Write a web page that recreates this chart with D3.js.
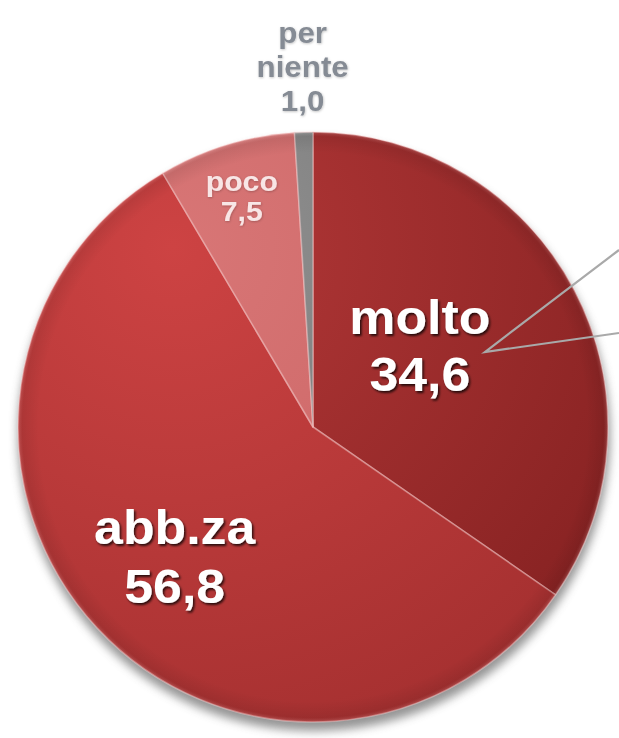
<!DOCTYPE html>
<html>
<head>
<meta charset="utf-8">
<script src="https://cdn.jsdelivr.net/npm/d3@7"></script>
<style>
  html, body { margin: 0; padding: 0; background: #ffffff; }
  svg { display: block; }
</style>
</head>
<body>
<svg id="chart" width="619" height="738"></svg>
<script>
// ---- data ----
const categories = ["molto", "abb.za", "poco", "per niente"];
const values = [34.6, 56.8, 7.5, 1.0];
const valueLabels = ["34,6", "56,8", "7,5", "1,0"];

// ---- styles / layout ----
const W = 619, H = 738;
const cx = 313, cy = 427, R = 295;
const fills = [
  ["#b43838", "#852121"],
  ["#cd4343", "#a32f2f"],
  ["#d87676", "#c75f5f"],
  ["#949494", "#666666"]
];
// label placement: radius along mid-angle, plus nudge, font size, colours
const labelStyle = [
  { r: 150, dx: -26, dy: -12, size: 48, color: "#ffffff", shadow: true, lines: 2, lh: 57 },
  { r: 189, dx: 0, dy: 0, size: 48, color: "#ffffff", shadow: true, lines: 2, lh: 59 },
  { r: 242, dx: 0, dy: 0, size: 28, color: "#f8e6e6", shadow: false, lines: 2, lh: 30 },
  { r: 362, dx: 1, dy: 1, size: 29, color: "#858b94", shadow: false, lines: 3, lh: 34 }
];

const svg = d3.select("#chart");
const defs = svg.append("defs");

// drop shadow for text
const f = defs.append("filter").attr("id", "txtShadow")
  .attr("x", "-20%").attr("y", "-20%").attr("width", "140%").attr("height", "140%");
f.append("feDropShadow").attr("dx", 1.5).attr("dy", 2).attr("stdDeviation", 1.2)
  .attr("flood-color", "#000").attr("flood-opacity", 0.75);

const fs = defs.append("filter").attr("id", "softTxt")
  .attr("x", "-20%").attr("y", "-20%").attr("width", "140%").attr("height", "140%");
fs.append("feDropShadow").attr("dx", 0.5).attr("dy", 0.8).attr("stdDeviation", 0.8)
  .attr("flood-color", "#000").attr("flood-opacity", 0.25);

// pie shadow
const ps = defs.append("filter").attr("id", "pieShadow")
  .attr("x", "-20%").attr("y", "-20%").attr("width", "140%").attr("height", "140%");
ps.append("feGaussianBlur").attr("stdDeviation", 5);

// gradients per slice (local coords of the pie group, centre = 0,0)
fills.forEach((c, i) => {
  const g = defs.append("radialGradient").attr("id", "grad" + i)
    .attr("gradientUnits", "userSpaceOnUse")
    .attr("cx", -140).attr("cy", -180).attr("r", 560);
  g.append("stop").attr("offset", "0").attr("stop-color", c[0]);
  g.append("stop").attr("offset", "1").attr("stop-color", c[1]);
});

// rim shading gradient
const rim = defs.append("radialGradient").attr("id", "rimGrad")
  .attr("gradientUnits", "userSpaceOnUse")
  .attr("cx", 0).attr("cy", 0).attr("r", R);
rim.append("stop").attr("offset", "0.93").attr("stop-color", "#000").attr("stop-opacity", 0);
rim.append("stop").attr("offset", "0.985").attr("stop-color", "#000").attr("stop-opacity", 0.08);
rim.append("stop").attr("offset", "1").attr("stop-color", "#fff").attr("stop-opacity", 0.15);

// shadow under pie
svg.append("circle")
  .attr("cx", cx + 1).attr("cy", cy + 8).attr("r", R + 1)
  .attr("fill", "#7a7a7a").attr("opacity", 0.8)
  .attr("filter", "url(#pieShadow)");

const pie = d3.pie().sort(null).value(d => d)
  .startAngle(0).endAngle(2 * Math.PI);
const arcs = pie(values);
const arc = d3.arc().innerRadius(0).outerRadius(R);

const g = svg.append("g").attr("transform", `translate(${cx},${cy})`);

g.selectAll("path.slice").data(arcs).enter().append("path")
  .attr("class", "slice")
  .attr("d", arc)
  .attr("fill", (d, i) => `url(#grad${i})`)
  .attr("stroke", "rgba(255,215,215,0.4)")
  .attr("stroke-width", 1.6)
  .attr("stroke-linejoin", "round");

// rim overlay
g.append("circle").attr("r", R).attr("fill", "url(#rimGrad)").attr("pointer-events", "none");

// leader lines (from outside labels, cropped)
const tip = [172, -75];
const leaderEnds = [[306, -177], [306, -94]];
g.append("path")
  .attr("d", `M${leaderEnds[0][0]},${leaderEnds[0][1]}L${tip[0]},${tip[1]}L${leaderEnds[1][0]},${leaderEnds[1][1]}`)
  .attr("fill", "none").attr("stroke", "#a9a9a9").attr("stroke-width", 2.2);

// labels
arcs.forEach((d, i) => {
  const s = labelStyle[i];
  const a = (d.startAngle + d.endAngle) / 2;
  const x = Math.sin(a) * s.r + s.dx;
  const y = -Math.cos(a) * s.r + s.dy;
  let lines = [categories[i], valueLabels[i]];
  if (s.lines === 3) lines = categories[i].split(" ").concat([valueLabels[i]]);
  const n = lines.length;
  const t = g.append("g").attr("transform", `translate(${x},${y}) scale(1.08,1)`);
  lines.forEach((ln, k) => {
    t.append("text")
      .attr("x", 0)
      .attr("y", (k - (n - 1) / 2) * s.lh + s.size * 0.36)
      .attr("text-anchor", "middle")
      .attr("font-family", "'Liberation Sans', Arial, sans-serif")
      .attr("font-weight", "bold")
      .attr("font-size", s.size)
      .attr("fill", s.color)
      .attr("filter", s.shadow ? "url(#txtShadow)" : "url(#softTxt)")
      .text(ln);
  });
});
</script>
</body>
</html>
